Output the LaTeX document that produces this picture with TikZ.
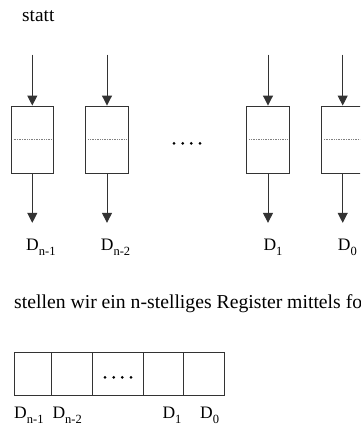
\documentclass[tikz,border=0pt]{standalone}
\usepackage{fontspec}
\setmainfont{Liberation Serif}
\usetikzlibrary{arrows.meta}
\newcommand\lbltx[2]{\fontsize{17.5}{17.5}\selectfont #1\raisebox{-5pt}{\fontsize{12.5}{12.5}\selectfont #2}}
\begin{document}
\begin{tikzpicture}[x=1pt,y=1pt,
  ln/.style={draw=black!80, line width=1pt},
  ffbox/.style={ln, rectangle, minimum width=42.5pt, minimum height=67.3pt, inner sep=0},
  arr/.style={ln, -{Triangle[length=10pt,width=10pt]}},
  mid/.style={gray, densely dotted, line width=0.7pt},
  lbl/.style={anchor=base west, inner sep=0},
  txt/.style={anchor=base west, inner sep=0, font=\fontsize{19.3}{22}\selectfont},
  cell/.style={ln, rectangle, minimum height=43.4pt, inner sep=0},
  dotf/.style={fill=black}
]
\useasboundingbox (0,0) rectangle (360,-426);
\clip (0,0) rectangle (360,-426);

\node[txt] (t1) at (22,-21.7) {statt};

% flip-flop boxes
\node[ffbox] (b1) at (32.3,-139.7) {};
\node[ffbox] (b2) at (107,-139.7) {};
\node[ffbox] (b3) at (268,-139.7) {};
\node[ffbox] (b4) at (342.7,-139.7) {};

\foreach \b in {b1,b2,b3,b4}{
  \coordinate (\b in) at ([yshift=51pt]\b.north);
  \coordinate (\b out) at ([yshift=-49pt]\b.south);
  \draw[arr] (\b in) -- (\b.north);
  \draw[arr] (\b.south) -- (\b out);
  \draw[mid] ([xshift=3pt]\b.west) -- ([xshift=-3pt]\b.east);
}

\foreach \x in {174,182.7,191.3,200}{
  \fill[dotf] (\x,-143.3) circle (1.5);
}

\node[lbl] (d1) at (26,-250) {\lbltx{D}{n-1}};
\node[lbl] (d2) at (100.7,-250) {\lbltx{D}{n-2}};
\node[lbl] (d3) at (263.3,-250) {\lbltx{D}{1}};
\node[lbl] (d4) at (337.7,-250) {\lbltx{D}{0}};

\node[txt, font=\fontsize{19.7}{22}\selectfont] (t2) at (14,-308) {stellen wir ein n-stelliges Register mittels fo};

% register
\node[cell, minimum width=37.7pt] (c1) at (32.85,-374) {};
\node[cell, minimum width=40.6pt] (c2) at (72,-374) {};
\node[cell, minimum width=51.4pt] (c3) at (118,-374) {};
\node[cell, minimum width=39.3pt] (c4) at (163.35,-374) {};
\node[cell, minimum width=41pt] (c5) at (203.5,-374) {};

\foreach \x in {105,113.7,122.3,131}{
  \fill[dotf] (\x,-377.3) circle (1.5);
}

\node[lbl] (r1) at (14,-418) {\lbltx{D}{n-1}};
\node[lbl] (r2) at (52.3,-418) {\lbltx{D}{n-2}};
\node[lbl] (r3) at (162.3,-418) {\lbltx{D}{1}};
\node[lbl] (r4) at (200,-418) {\lbltx{D}{0}};
\end{tikzpicture}
\end{document}
